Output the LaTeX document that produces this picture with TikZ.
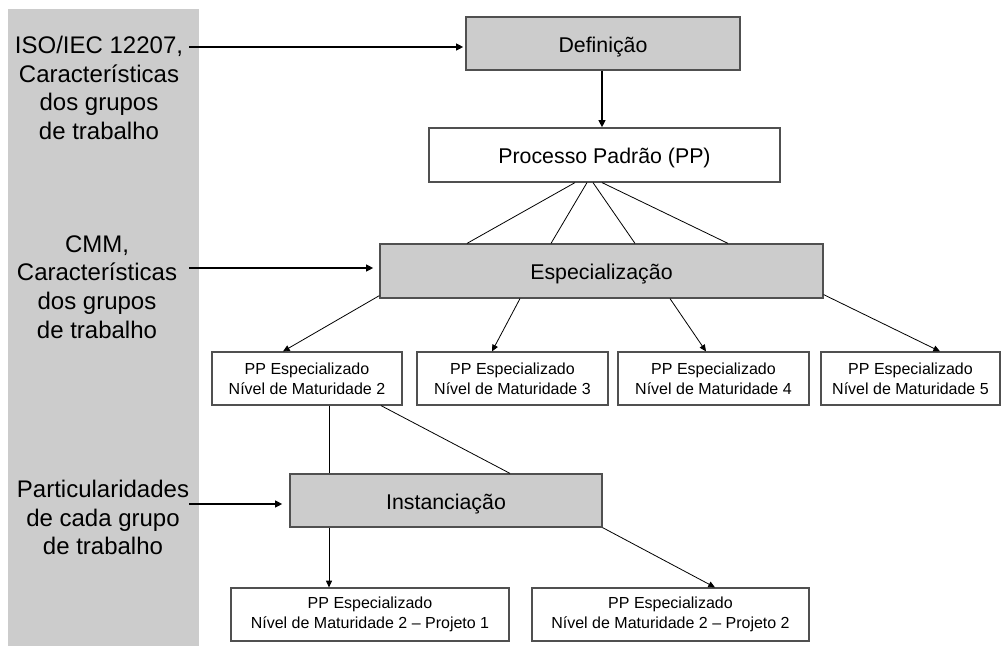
\documentclass[tikz,border=0pt]{standalone}
\usepackage{fontspec}
\setmainfont{Liberation Sans}
\usetikzlibrary{arrows.meta,calc}
\definecolor{boxgray}{RGB}{204,204,204}
\definecolor{edgegray}{RGB}{80,80,80}
\begin{document}
\begin{tikzpicture}[x=0.75pt,y=-0.75pt,
  stage/.style={draw=edgegray,line width=0.9pt,fill=boxgray,inner sep=0pt,text height=13.2pt,text depth=0pt,font=\fontsize{16}{19}\selectfont},
  plainbox/.style={draw=edgegray,line width=0.9pt,fill=white,inner sep=0pt,text height=13.2pt,text depth=0pt,font=\fontsize{16}{19}\selectfont},
  levelbox/.style={draw=edgegray,line width=0.9pt,fill=white,inner sep=0pt,align=center,font=\fontsize{12}{15}\selectfont},
  inputtext/.style={align=center,inner sep=0pt,font=\fontsize{18}{21.5}\selectfont},
  feed/.style={line width=1.6pt,-{Triangle[length=5.5pt,width=5pt]}},
  flow/.style={line width=0.6pt,-{Triangle[length=5pt,width=4.5pt]}},
  link/.style={line width=0.6pt}]
\useasboundingbox (0,0) rectangle (1001,646);
% side band holding the inputs
\fill[boxgray] (8,9) rectangle (199,646);

% stages and process boxes
\node[stage,minimum width=274*0.75pt,minimum height=53*0.75pt] (def) at (603,43.5) {Definição};
\node[plainbox,minimum width=351*0.75pt,minimum height=54*0.75pt] (pp) at (604.5,155) {Processo Padrão (PP)};
\node[stage,minimum width=443*0.75pt,minimum height=54*0.75pt] (esp) at (601.5,271) {Especialização};
\node[levelbox,minimum width=190*0.75pt,minimum height=53*0.75pt] (n2) at (307,378.5) {PP Especializado\\Nível de Maturidade 2};
\node[levelbox,minimum width=191*0.75pt,minimum height=53*0.75pt] (n3) at (512.5,378.5) {PP Especializado\\Nível de Maturidade 3};
\node[levelbox,minimum width=191*0.75pt,minimum height=53*0.75pt] (n4) at (713.5,378.5) {PP Especializado\\Nível de Maturidade 4};
\node[levelbox,minimum width=179*0.75pt,minimum height=53*0.75pt] (n5) at (910.5,378.5) {PP Especializado\\Nível de Maturidade 5};
\node[stage,minimum width=312*0.75pt,minimum height=53*0.75pt] (inst) at (446,500.5) {Instanciação};
\node[levelbox,minimum width=278*0.75pt,minimum height=53*0.75pt] (p1) at (370,614.5) {PP Especializado\\Nível de Maturidade 2 – Projeto 1};
\node[levelbox,minimum width=277*0.75pt,minimum height=53*0.75pt] (p2) at (670.5,614.5) {PP Especializado\\Nível de Maturidade 2 – Projeto 2};

% inputs on the side band
\node[inputtext] (in1) at (99,88) {ISO/IEC 12207,\\Características\\dos grupos\\de trabalho};
\node[inputtext] (in2) at (97,287) {CMM,\\Características\\dos grupos\\de trabalho};
\node[inputtext] (in3) at (103,517.5) {Particularidades\\de cada grupo\\de trabalho};
\coordinate (a1) at (189,47);
\coordinate (a2) at (189,268);
\coordinate (a3) at (189,504);

\draw[feed] (a1) -- ($(a1 -| def.west)+(-2,0)$);
\draw[feed] (a2) -- ($(a2 -| esp.west)+(-6,0)$);
\draw[feed] (a3) -- ($(a3 -| inst.west)+(-7,0)$);
\draw[feed] (def.south -| 602,0) -- (pp.north -| 602,0);

% standard process feeds the specialization
\draw[link] ($(pp.south)+(-29.5,0)$) -- ($(esp.north)+(-134.5,0)$);
\draw[link] ($(pp.south)+(-17.5,0)$) -- ($(esp.north)+(-50.5,0)$);
\draw[link] ($(pp.south)+(-11.5,0)$) -- ($(esp.north)+(33.5,0)$);
\draw[link] ($(pp.south)+(-2.5,0)$) -- ($(esp.north)+(126.5,0)$);

% specialization per maturity level
\draw[flow] ($(esp.south west)+(0,-3)$) -- ($(n2.north)+(-24,0)$);
\draw[flow] ($(esp.south)+(-81.5,0)$) -- ($(n3.north)+(-20.5,0)$);
\draw[flow] ($(esp.south)+(68.5,0)$) -- ($(n4.north)+(-7.5,0)$);
\draw[flow] ($(esp.south east)+(0,-4)$) -- ($(n5.north)+(29.5,0)$);

% level 2 feeds the instantiation
\draw[link] ($(n2.south)+(22,0)$) -- ($(inst.north)+(-117,0)$);
\draw[link] ($(n2.south)+(74,0)$) -- ($(inst.north)+(64,0)$);

% instantiation per project
\draw[flow] ($(inst.south)+(-117,0)$) -- ($(p1.north)+(-41,0)$);
\draw[flow] (inst.south east) -- ($(p2.north)+(44.5,0)$);
\end{tikzpicture}
\end{document}
